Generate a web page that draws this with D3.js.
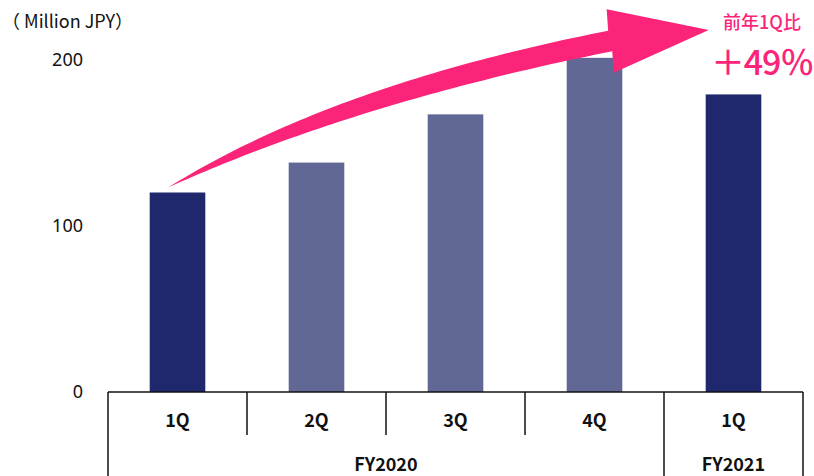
<!DOCTYPE html>
<html>
<head>
<meta charset="utf-8">
<script src="https://cdn.jsdelivr.net/npm/d3@7"></script>
<style>
  html, body { margin: 0; padding: 0; background: #fff; }
  svg { display: block; }
</style>
</head>
<body>
<svg id="chart" width="814" height="476"></svg>
<script>
// Quarterly figures (Million JPY)
const quarters = ["1Q", "2Q", "3Q", "4Q", "1Q"];
const fiscalYears = ["FY2020", "FY2020", "FY2020", "FY2020", "FY2021"];
const values = [120, 138, 167, 201, 179];
const highlight = [true, false, false, false, true];
const yTicks = [0, 100, 200];
const unitLabel = "（ Million JPY）";
const growthTitle = "前年1Q比";
const growthText = "＋49％";

const svg = d3.select("#chart");
const W = 814, H = 476;
const left = 108, right = 803, zeroY = 392;

const keys = quarters.map((q, i) => i);
const x = d3.scaleBand().domain(keys).range([left, right]).paddingInner(0.6).paddingOuter(0.3);
const y = d3.scaleLinear().domain([0, 200]).range([zeroY, 59.5]);

const DARK = "#1f286c", LIGHT = "#616896", PINK = "#fb2479";
const latin = "'Noto Sans', sans-serif";
const cjk = "'Noto Sans CJK JP', sans-serif";

// unit caption
svg.append("text").attr("x", 2).attr("y", 28)
  .attr("font-family", cjk).attr("font-size", 18).attr("fill", "#111")
  .text(unitLabel);

// y axis labels only (no line, no grid)
const yAxis = d3.axisLeft(y).tickValues(yTicks).tickSize(0).tickPadding(0);
const gy = svg.append("g").attr("transform", "translate(83,0)").call(yAxis);
gy.select(".domain").remove();
gy.selectAll("text").attr("font-family", latin).attr("font-size", 18).attr("fill", "#111");

// bars
svg.append("g").selectAll("rect").data(values).join("rect")
  .attr("x", (d, i) => x(i))
  .attr("y", d => y(d))
  .attr("width", x.bandwidth())
  .attr("height", d => y(0) - y(d))
  .attr("fill", (d, i) => highlight[i] ? DARK : LIGHT);

// category table under the baseline
const step = x.step();
const cellL = i => left + i * step;
const g = svg.append("g").attr("stroke", "#111").attr("stroke-width", 1.5);
g.append("line").attr("x1", left).attr("x2", right).attr("y1", zeroY).attr("y2", zeroY);
keys.forEach(i => {
  if (i === 0) return;
  const full = fiscalYears[i] !== fiscalYears[i - 1];
  g.append("line").attr("x1", cellL(i)).attr("x2", cellL(i))
    .attr("y1", zeroY).attr("y2", full ? H : 435);
});
g.append("line").attr("x1", left).attr("x2", left).attr("y1", zeroY).attr("y2", H);
g.append("line").attr("x1", right).attr("x2", right).attr("y1", zeroY).attr("y2", H);

svg.append("g").selectAll("text").data(quarters).join("text")
  .attr("x", (d, i) => x(i) + x.bandwidth() / 2)
  .attr("y", 427)
  .attr("text-anchor", "middle")
  .attr("font-family", cjk).attr("font-weight", 700).attr("font-size", 18).attr("fill", "#111")
  .text(d => d);

const years = d3.groups(keys, i => fiscalYears[i]);
svg.append("g").selectAll("text").data(years).join("text")
  .attr("x", d => (cellL(d[1][0]) + cellL(d[1][d[1].length - 1] + 1)) / 2)
  .attr("y", 471)
  .attr("text-anchor", "middle")
  .attr("font-family", cjk).attr("font-weight", 700).attr("font-size", 18).attr("fill", "#111")
  .text(d => d[0]);

// growth arrow from the first quarter to the latest quarter
const start = [x(0) + x.bandwidth() * 0.33, y(values[0]) - 5];
const tip = [x(4) + 3, 30];
const headBack = [tip[0] - 98.5, tip[1] + 11];
const ctrl = [343, 94];
const N = 60;
const pts = d3.range(N + 1).map(k => {
  const t = k / N, u = 1 - t;
  const px = u * u * start[0] + 2 * u * t * ctrl[0] + t * t * headBack[0];
  const py = u * u * start[1] + 2 * u * t * ctrl[1] + t * t * headBack[1];
  const dx = 2 * u * (ctrl[0] - start[0]) + 2 * t * (headBack[0] - ctrl[0]);
  const dy = 2 * u * (ctrl[1] - start[1]) + 2 * t * (headBack[1] - ctrl[1]);
  const len = Math.hypot(dx, dy);
  const w = 10.5 * (1 - Math.pow(1 - t, 2.5));
  return { px, py, nx: dy / len, ny: -dx / len, w };
});
const upper = pts.map(p => [p.px + p.nx * p.w, p.py + p.ny * p.w]);
const lower = pts.map(p => [p.px - p.nx * p.w, p.py - p.ny * p.w]).reverse();
const hd = [tip[0] - headBack[0], tip[1] - headBack[1]];
const hl = Math.hypot(hd[0], hd[1]);
const hn = [hd[1] / hl, -hd[0] / hl];
const headHalf = 32;
const headUpper = [headBack[0] + hn[0] * headHalf, headBack[1] + hn[1] * headHalf];
const headLower = [headBack[0] - hn[0] * headHalf, headBack[1] - hn[1] * headHalf];
const outline = [...upper, headUpper, tip, headLower, ...lower];
svg.append("path")
  .attr("d", d3.line()(outline) + "Z")
  .attr("fill", PINK);

// growth label: two-line callout
svg.append("text").attr("x", 762).attr("y", 29).attr("text-anchor", "middle")
  .attr("font-family", cjk).attr("font-weight", 500).attr("font-size", 18).attr("fill", PINK)
  .text(growthTitle);
svg.append("text").attr("x", 762).attr("y", 75).attr("text-anchor", "middle")
  .attr("font-family", cjk).attr("font-weight", 500).attr("font-size", 34).attr("fill", PINK)
  .attr("letter-spacing", -1.2)
  .text(growthText);
</script>
</body>
</html>
